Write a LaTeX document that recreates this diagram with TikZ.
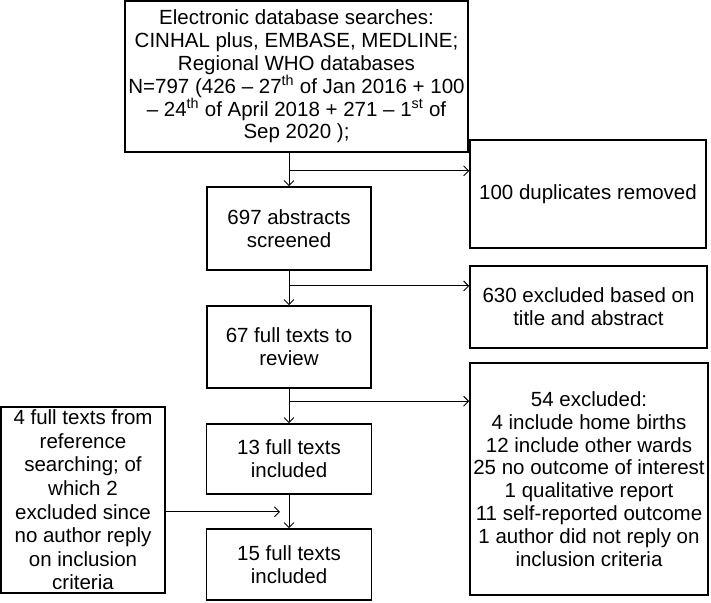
\documentclass[tikz,border=0pt]{standalone}
\usepackage{fontspec}
\setmainfont{Liberation Sans}
\usetikzlibrary{arrows.meta}

\begin{document}
\begin{tikzpicture}[x=1pt,y=-1pt,
  box/.style={draw,line width=1.6pt,align=center,inner sep=0pt,font=\fontsize{20.5}{22.8}\selectfont},
  link/.style={line width=0.9pt,-{Straight Barb[length=5pt,width=10pt]}}]
\useasboundingbox (0,0) rectangle (711,602);
% main column
\node [box,minimum width=343,minimum height=151] (search) at (296.5,76.5) {Electronic database searches:\\CINHAL plus, EMBASE, MEDLINE;\\Regional WHO databases\\N=797 (426 -- 27\textsuperscript{th} of Jan 2016 + 100\\-- 24\textsuperscript{th} of April 2018 + 271 -- 1\textsuperscript{st} of\\Sep 2020 );};
\node [box,minimum width=164,minimum height=83] (screen) at (289,228.5) {697 abstracts\\screened};
\node [box,minimum width=164,minimum height=82] (review) at (289,347) {67 full texts to\\review};
\node [box,minimum width=165,minimum height=70] (incl) at (289,459) {13 full texts\\included};
\node [box,minimum width=165,minimum height=71] (final) at (289,564.5) {15 full texts\\included};
% side boxes
\node [box,minimum width=236,minimum height=108] (dup) at (588,194) {100 duplicates removed};
\node [box,minimum width=237,minimum height=82] (title) at (588.5,307) {630 excluded based on\\title and abstract};
\node [box,minimum width=238,minimum height=232] (excl) at (589,479) {54 excluded:\\4 include home births\\12 include other wards\\25 no outcome of interest\\1 qualitative report\\11 self-reported outcome\\1 author did not reply on\\inclusion criteria};
\node [box,minimum width=164,minimum height=186,font=\fontsize{20.5}{23.6}\selectfont] (refs) at (83,500) {4 full texts from\\reference\\searching; of\\which 2\\excluded since\\no author reply\\on inclusion\\criteria};

% spine
\draw [link] (search.south -| screen.north) -- node[pos=0.54,coordinate] (b1) {} (screen.north);
\draw [link] (screen.south) -- node[pos=0.44,coordinate] (b2) {} (review.north);
\draw [link] (review.south) -- node[pos=0.36,coordinate] (b3) {} (incl.north);
\draw [link] (incl.south) -- node[pos=0.51,coordinate] (b4) {} (final.north);

% branches
\draw [link] (b1) -- (b1 -| dup.west);
\draw [link] (b2) -- (b2 -| title.west);
\draw [link] (b3) -- (b3 -| excl.west);
\coordinate (refend) at ([xshift=-9pt]b4);
\draw [link] (refs.east |- b4) -- (refend);
\end{tikzpicture}
\end{document}
